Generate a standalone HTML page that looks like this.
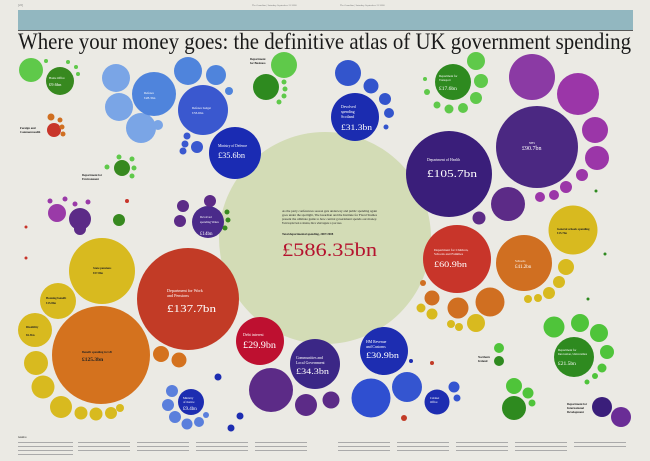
<!DOCTYPE html>
<html><head><meta charset="utf-8"><style>
html,body{margin:0;padding:0;background:#ebeae4;}
svg{display:block}
text{font-family:"Liberation Serif",serif;}
.w{fill:#fff}.k{fill:#222}
</style></head><body>
<svg width="650" height="461" viewBox="0 0 650 461" xmlns="http://www.w3.org/2000/svg">
<rect width="650" height="461" fill="#ebeae4"/>
<text x="18" y="6" font-size="3" fill="#777">[22]</text>
<text x="252" y="6" font-size="2.5" fill="#777">The Guardian | Saturday September 13 2008</text>
<text x="340" y="6" font-size="2.5" fill="#777">The Guardian | Saturday September 13 2008</text>
<rect x="18" y="10" width="615" height="20" fill="#92b7c0"/>
<rect x="18" y="30" width="615" height="0.8" fill="#333"/>
<text x="18" y="49" font-size="23.5" fill="#1a1a1a" textLength="613" lengthAdjust="spacingAndGlyphs">Where your money goes: the definitive atlas of UK government spending</text>

<!-- total -->
<circle cx="325" cy="238" r="106" fill="#d3dcb6"/>
<text x="282" y="212" font-size="2.6" class="k" textLength="95" lengthAdjust="spacingAndGlyphs">As the party conferences season gets underway and public spending again</text>
<text x="282" y="216" font-size="2.6" class="k" textLength="95" lengthAdjust="spacingAndGlyphs">goes under the spotlight, The Guardian and the Institute for Fiscal Studies</text>
<text x="282" y="220" font-size="2.6" class="k" textLength="95" lengthAdjust="spacingAndGlyphs">present the ultimate guide to how central government spends our money.</text>
<text x="282" y="224" font-size="2.6" class="k" textLength="60" lengthAdjust="spacingAndGlyphs">From hospital beds to missiles, this is what happens to your taxes.</text>
<text x="282" y="235" font-size="3" class="k" font-weight="bold">Total departmental spending, 2007/2008</text>
<text x="282" y="256" font-size="19" fill="#b5122e" textLength="95" lengthAdjust="spacingAndGlyphs">£586.35bn</text>

<!-- left yellow/orange/red -->
<circle cx="102" cy="271" r="33" fill="#d8ba1f"/>
<circle cx="58" cy="301" r="18" fill="#d8ba1f"/>
<circle cx="35" cy="330" r="17" fill="#d8ba1f"/>
<circle cx="36" cy="363" r="12" fill="#d8ba1f"/>
<circle cx="43" cy="387" r="11.5" fill="#d8ba1f"/>
<circle cx="61" cy="407" r="11" fill="#d8ba1f"/>
<circle cx="81" cy="413" r="6.5" fill="#d8ba1f"/>
<circle cx="96" cy="414" r="6.5" fill="#d8ba1f"/>
<circle cx="111" cy="413" r="6" fill="#d8ba1f"/>
<circle cx="120" cy="408" r="4" fill="#d8ba1f"/>
<circle cx="101" cy="355" r="49" fill="#d4721e"/>
<circle cx="188" cy="299" r="51" fill="#c23b26"/>
<circle cx="161" cy="354" r="8" fill="#d4721e"/>
<circle cx="179" cy="360" r="7.5" fill="#d4721e"/>
<circle cx="26" cy="258" r="1.5" fill="#c8352a"/>
<text x="93" y="269" font-size="3" class="k" font-weight="bold">State pensions</text>
<text x="93" y="274" font-size="3" class="k" font-weight="bold">£57.8bn</text>
<text x="46" y="299" font-size="3" class="k" font-weight="bold">Housing benefit</text>
<text x="46" y="304" font-size="3" class="k" font-weight="bold">£15.8bn</text>
<text x="26" y="328" font-size="3" class="k" font-weight="bold">Disability</text>
<text x="26" y="336" font-size="3" class="k" font-weight="bold">£6.3bn</text>
<text x="82" y="353" font-size="3" class="k" font-weight="bold">Benefit spending in GB</text>
<text x="82" y="361" font-size="5.5" class="k" font-weight="bold">£125.3bn</text>
<text x="167" y="292" font-size="4.2" class="w">Department for Work</text>
<text x="167" y="297" font-size="4.2" class="w">and Pensions</text>
<text x="167" y="312" font-size="11" class="w" textLength="49" lengthAdjust="spacingAndGlyphs">£137.7bn</text>
<circle cx="260" cy="341" r="24" fill="#be1030"/>
<text x="243" y="336" font-size="4" class="w">Debt interest</text>
<text x="243" y="348" font-size="9" class="w" textLength="33" lengthAdjust="spacingAndGlyphs">£29.9bn</text>
<circle cx="271" cy="390" r="22" fill="#5c2b87"/>
<circle cx="315" cy="364" r="25" fill="#3b2786"/>
<circle cx="306" cy="405" r="11" fill="#5c2b87"/>
<circle cx="331" cy="400" r="8.5" fill="#5c2b87"/>
<text x="296" y="359" font-size="3.8" class="w">Communities and</text>
<text x="296" y="364" font-size="3.8" class="w">Local Government</text>
<text x="296" y="374" font-size="8.5" class="w" textLength="33" lengthAdjust="spacingAndGlyphs">£34.3bn</text>
<circle cx="371" cy="398" r="19.5" fill="#2f4fd0"/>
<circle cx="407" cy="387" r="15" fill="#3455d0"/>
<circle cx="384" cy="351" r="24" fill="#1d2db1"/>
<text x="366" y="343" font-size="3.8" class="w">HM Revenue</text>
<text x="366" y="348" font-size="3.8" class="w">and Customs</text>
<text x="366" y="358" font-size="8.5" class="w" textLength="33" lengthAdjust="spacingAndGlyphs">£30.9bn</text>
<circle cx="437" cy="402" r="12.5" fill="#1d2db1"/>
<text x="430" y="399" font-size="3" class="w">Cabinet</text>
<text x="430" y="403" font-size="3" class="w">Office</text>
<circle cx="454" cy="387" r="5.5" fill="#3455d0"/>
<circle cx="457" cy="398" r="3.5" fill="#3455d0"/>
<circle cx="404" cy="418" r="3" fill="#c23b26"/>
<circle cx="411" cy="361" r="2" fill="#1d2db1"/>
<circle cx="432" cy="363" r="2" fill="#c23b26"/>

<!-- children/schools -->
<circle cx="524" cy="263" r="28" fill="#d06f21"/>
<circle cx="457" cy="259" r="34" fill="#c8352a"/>
<text x="434" y="251" font-size="3.4" class="w">Department for Children,</text>
<text x="434" y="255" font-size="3.4" class="w">Schools and Families</text>
<text x="434" y="267" font-size="8.5" class="w" textLength="33" lengthAdjust="spacingAndGlyphs">£60.9bn</text>
<text x="515" y="262" font-size="3.3" class="w">Schools</text>
<text x="515" y="268" font-size="5" class="w">£41.2bn</text>
<circle cx="490" cy="302" r="14.5" fill="#d06f21"/>
<circle cx="458" cy="308" r="10.5" fill="#d06f21"/>
<circle cx="432" cy="298" r="7.5" fill="#d06f21"/>
<circle cx="476" cy="323" r="9" fill="#d8ba1f"/>
<circle cx="432" cy="314" r="5.5" fill="#d8ba1f"/>
<circle cx="421" cy="308" r="4.5" fill="#d8ba1f"/>
<circle cx="451" cy="324" r="4" fill="#d8ba1f"/>
<circle cx="459" cy="327" r="4" fill="#d8ba1f"/>
<circle cx="423" cy="283" r="3" fill="#d06f21"/>
<circle cx="566" cy="267" r="8" fill="#d8ba1f"/>
<circle cx="559" cy="282" r="6" fill="#d8ba1f"/>
<circle cx="549" cy="293" r="6" fill="#d8ba1f"/>
<circle cx="538" cy="298" r="4" fill="#d8ba1f"/>
<circle cx="528" cy="299" r="4" fill="#d8ba1f"/>
<circle cx="573" cy="230" r="24.5" fill="#d8ba1f"/>
<text x="557" y="230" font-size="3" class="k" font-weight="bold">General schools spending</text>
<text x="557" y="234" font-size="3" class="k" font-weight="bold">£15.7bn</text>

<!-- right greens -->
<circle cx="574" cy="357" r="20" fill="#2e8a1f"/>
<text x="558" y="351" font-size="3" class="w">Department for</text>
<text x="558" y="355" font-size="3" class="w">Innovation, Universities</text>
<text x="558" y="365" font-size="5.5" class="w">£21.5bn</text>
<circle cx="554" cy="327" r="10.5" fill="#4fc43a"/>
<circle cx="580" cy="323" r="9" fill="#4fc43a"/>
<circle cx="599" cy="333" r="9" fill="#4fc43a"/>
<circle cx="607" cy="352" r="7" fill="#4fc43a"/>
<circle cx="602" cy="368" r="4.5" fill="#4fc43a"/>
<circle cx="595" cy="376" r="3" fill="#4fc43a"/>
<circle cx="587" cy="382" r="2.5" fill="#4fc43a"/>
<circle cx="499" cy="361" r="5" fill="#2e8a1f"/>
<circle cx="499" cy="348" r="5" fill="#4fc43a"/>
<text x="478" y="358" font-size="3" class="k" font-weight="bold">Northern</text>
<text x="478" y="362" font-size="3" class="k" font-weight="bold">Ireland</text>
<circle cx="514" cy="408" r="12" fill="#2e8a1f"/>
<circle cx="514" cy="386" r="8" fill="#4fc43a"/>
<circle cx="528" cy="393" r="5.5" fill="#4fc43a"/>
<circle cx="532" cy="403" r="3.5" fill="#4fc43a"/>
<circle cx="602" cy="407" r="10" fill="#3a1e7a"/>
<circle cx="621" cy="417" r="10" fill="#6a2d96"/>
<text x="567" y="405" font-size="3" class="k" font-weight="bold">Department for</text>
<text x="567" y="409" font-size="3" class="k" font-weight="bold">International</text>
<text x="567" y="413" font-size="3" class="k" font-weight="bold">Development</text>

<!-- Justice -->
<circle cx="191" cy="402" r="13" fill="#1d2db1"/>
<text x="183" y="399" font-size="3" class="w">Ministry</text>
<text x="183" y="403" font-size="3" class="w">of Justice</text>
<text x="183" y="410" font-size="5" class="w">£9.4bn</text>
<circle cx="172" cy="391" r="6" fill="#5a7fdc"/>
<circle cx="168" cy="405" r="6" fill="#5a7fdc"/>
<circle cx="175" cy="417" r="6" fill="#5a7fdc"/>
<circle cx="187" cy="424" r="5.5" fill="#5a7fdc"/>
<circle cx="199" cy="422" r="5" fill="#5a7fdc"/>
<circle cx="206" cy="415" r="3" fill="#5a7fdc"/>
<circle cx="218" cy="377" r="3.5" fill="#1d2db1"/>
<circle cx="240" cy="416" r="3.5" fill="#1d2db1"/>
<circle cx="231" cy="428" r="3.5" fill="#1d2db1"/>

<!-- top-left -->
<circle cx="31" cy="70" r="12" fill="#5fc94a"/>
<circle cx="60" cy="81" r="14" fill="#37891f"/>
<text x="49" y="79" font-size="3" class="w">Home Office</text>
<text x="49" y="86" font-size="4.5" class="w">£9.6bn</text>
<circle cx="46" cy="61" r="2" fill="#5fc94a"/>
<circle cx="68" cy="62" r="2" fill="#5fc94a"/>
<circle cx="76" cy="67" r="2" fill="#5fc94a"/>
<circle cx="78" cy="74" r="2" fill="#5fc94a"/>
<circle cx="54" cy="130" r="7" fill="#c8352a"/>
<circle cx="51" cy="117" r="3.5" fill="#d06f21"/>
<circle cx="60" cy="120" r="2.5" fill="#d06f21"/>
<circle cx="62" cy="127" r="2.5" fill="#d06f21"/>
<circle cx="63" cy="134" r="2.5" fill="#d06f21"/>
<text x="20" y="129" font-size="3" class="k" font-weight="bold">Foreign and</text>
<text x="20" y="133" font-size="3" class="k" font-weight="bold">Commonwealth</text>

<circle cx="116" cy="78" r="14" fill="#7aa5e6"/>
<circle cx="119" cy="107" r="14" fill="#7aa5e6"/>
<circle cx="141" cy="128" r="15" fill="#7aa5e6"/>
<circle cx="154" cy="94" r="22" fill="#4f84dc"/>
<circle cx="158" cy="125" r="5" fill="#7aa5e6"/>
<circle cx="188" cy="71" r="14" fill="#4f84dc"/>
<circle cx="216" cy="75" r="10" fill="#4f84dc"/>
<circle cx="229" cy="91" r="4" fill="#4f84dc"/>
<circle cx="203" cy="110" r="25" fill="#3a58cf"/>
<text x="192" y="109" font-size="3" class="w">Defence budget</text>
<text x="192" y="114" font-size="3.5" class="w">£33.6bn</text>
<text x="144" y="94" font-size="3" class="w">Defence</text>
<text x="144" y="99" font-size="3.5" class="w">£28.3bn</text>
<circle cx="235" cy="153" r="26" fill="#1a2bb3"/>
<text x="218" y="147" font-size="3.6" class="w">Ministry of Defence</text>
<text x="218" y="158" font-size="8" class="w" textLength="27" lengthAdjust="spacingAndGlyphs">£35.6bn</text>
<circle cx="187" cy="136" r="3.5" fill="#3a58cf"/>
<circle cx="185" cy="144" r="3.5" fill="#3a58cf"/>
<circle cx="197" cy="147" r="6" fill="#3a58cf"/>
<circle cx="183" cy="151" r="3.5" fill="#3a58cf"/>

<circle cx="122" cy="168" r="8" fill="#37891f"/>
<circle cx="107" cy="167" r="2.5" fill="#5fc94a"/>
<circle cx="119" cy="157" r="2.5" fill="#5fc94a"/>
<circle cx="132" cy="159" r="2.5" fill="#5fc94a"/>
<circle cx="134" cy="168" r="2.5" fill="#5fc94a"/>
<circle cx="132" cy="176" r="2.5" fill="#5fc94a"/>
<text x="82" y="176" font-size="3" class="k" font-weight="bold">Department for</text>
<text x="82" y="180" font-size="3" class="k" font-weight="bold">Environment</text>

<circle cx="57" cy="213" r="9" fill="#9a3aa8"/>
<circle cx="80" cy="219" r="11" fill="#5c2b87"/>
<circle cx="80" cy="229" r="6" fill="#5c2b87"/>
<circle cx="50" cy="201" r="2.5" fill="#9a3aa8"/>
<circle cx="65" cy="199" r="2.5" fill="#9a3aa8"/>
<circle cx="75" cy="204" r="2.5" fill="#9a3aa8"/>
<circle cx="88" cy="202" r="2.5" fill="#9a3aa8"/>
<circle cx="127" cy="201" r="2" fill="#c8352a"/>
<circle cx="119" cy="220" r="6" fill="#37891f"/>
<circle cx="26" cy="227" r="1.5" fill="#c8352a"/>

<!-- Wales purple -->
<circle cx="208" cy="222" r="16" fill="#4a2a8a"/>
<text x="200" y="218" font-size="3" class="w">Devolved</text>
<text x="200" y="223" font-size="3" class="w">spending Wales</text>
<text x="200" y="235" font-size="5" class="w">£14bn</text>
<circle cx="183" cy="206" r="6" fill="#5c2b87"/>
<circle cx="210" cy="201" r="6" fill="#5c2b87"/>
<circle cx="180" cy="221" r="6" fill="#5c2b87"/>
<circle cx="227" cy="212" r="2.5" fill="#37891f"/>
<circle cx="228" cy="220" r="2.5" fill="#37891f"/>
<circle cx="225" cy="228" r="2.5" fill="#37891f"/>

<!-- BERR -->
<circle cx="284" cy="65" r="13" fill="#5fc94a"/>
<circle cx="266" cy="87" r="13" fill="#2e8a1f"/>
<circle cx="284" cy="82" r="2.5" fill="#5fc94a"/>
<circle cx="285" cy="89" r="2.5" fill="#5fc94a"/>
<circle cx="284" cy="96" r="2.5" fill="#5fc94a"/>
<circle cx="279" cy="102" r="2.5" fill="#5fc94a"/>
<text x="250" y="60" font-size="3" class="k" font-weight="bold">Department</text>
<text x="250" y="64" font-size="3" class="k" font-weight="bold">for Business</text>

<!-- Scotland -->
<circle cx="348" cy="73" r="13" fill="#3355cc"/>
<circle cx="371" cy="86" r="7.5" fill="#3355cc"/>
<circle cx="385" cy="99" r="6" fill="#3355cc"/>
<circle cx="389" cy="113" r="5" fill="#3355cc"/>
<circle cx="386" cy="127" r="2.5" fill="#3355cc"/>
<circle cx="355" cy="117" r="24" fill="#1b2cb0"/>
<text x="341" y="108" font-size="3.8" class="w">Devolved</text>
<text x="341" y="113" font-size="3.8" class="w">spending</text>
<text x="341" y="118" font-size="3.8" class="w">Scotland</text>
<text x="341" y="130" font-size="8" class="w" textLength="31" lengthAdjust="spacingAndGlyphs">£31.3bn</text>

<!-- Transport -->
<circle cx="453" cy="82" r="18" fill="#2e8a1f"/>
<text x="439" y="77" font-size="3" class="w">Department for</text>
<text x="439" y="81" font-size="3" class="w">Transport</text>
<text x="439" y="90" font-size="5.5" class="w">£17.6bn</text>
<circle cx="476" cy="61" r="9" fill="#5fc94a"/>
<circle cx="481" cy="81" r="7" fill="#5fc94a"/>
<circle cx="476" cy="98" r="6" fill="#5fc94a"/>
<circle cx="463" cy="108" r="5" fill="#5fc94a"/>
<circle cx="449" cy="109" r="4.5" fill="#5fc94a"/>
<circle cx="437" cy="105" r="3.5" fill="#5fc94a"/>
<circle cx="427" cy="92" r="3" fill="#5fc94a"/>
<circle cx="425" cy="79" r="2" fill="#5fc94a"/>

<!-- Health -->
<circle cx="532" cy="77" r="23" fill="#8b3aa4"/>
<circle cx="578" cy="94" r="21" fill="#9b36a8"/>
<circle cx="595" cy="130" r="13" fill="#9b36a8"/>
<circle cx="597" cy="158" r="12" fill="#9b36a8"/>
<circle cx="582" cy="175" r="6" fill="#9b36a8"/>
<circle cx="566" cy="187" r="6" fill="#9b36a8"/>
<circle cx="554" cy="195" r="5" fill="#9b36a8"/>
<circle cx="540" cy="197" r="5" fill="#9b36a8"/>
<circle cx="537" cy="147" r="41" fill="#4b2882"/>
<text x="529" y="144" font-size="3" class="w">NHS</text>
<text x="522" y="150" font-size="6" class="w">£90.7bn</text>
<circle cx="508" cy="204" r="17" fill="#5c2b87"/>
<circle cx="479" cy="218" r="6.5" fill="#5c2b87"/>
<circle cx="449" cy="174" r="43" fill="#3a1e7a"/>
<text x="427" y="161" font-size="3.8" class="w">Department of Health</text>
<text x="427" y="177" font-size="11" class="w" textLength="50" lengthAdjust="spacingAndGlyphs">£105.7bn</text>
<circle cx="596" cy="191" r="1.5" fill="#2e8a1f"/>
<circle cx="605" cy="254" r="1.5" fill="#2e8a1f"/>
<circle cx="588" cy="299" r="1.5" fill="#2e8a1f"/>

<!-- notes -->
<text x="18" y="438" font-size="2.5" class="k" font-weight="bold">NOTES</text>
<g fill="#aaa">
<rect x="18" y="442" width="55" height="1"/><rect x="18" y="446" width="55" height="1"/><rect x="18" y="450" width="55" height="1"/><rect x="18" y="454" width="55" height="1"/>
<rect x="78" y="442" width="52" height="1"/><rect x="78" y="446" width="52" height="1"/><rect x="78" y="450" width="52" height="1"/>
<rect x="137" y="442" width="52" height="1"/><rect x="137" y="446" width="52" height="1"/><rect x="137" y="450" width="52" height="1"/>
<rect x="196" y="442" width="52" height="1"/><rect x="196" y="446" width="52" height="1"/><rect x="196" y="450" width="52" height="1"/>
<rect x="255" y="442" width="52" height="1"/><rect x="255" y="446" width="52" height="1"/><rect x="255" y="450" width="52" height="1"/>
<rect x="338" y="442" width="52" height="1"/><rect x="338" y="446" width="52" height="1"/><rect x="338" y="450" width="52" height="1"/>
<rect x="397" y="442" width="52" height="1"/><rect x="397" y="446" width="52" height="1"/><rect x="397" y="450" width="52" height="1"/>
<rect x="456" y="442" width="52" height="1"/><rect x="456" y="446" width="52" height="1"/><rect x="456" y="450" width="52" height="1"/>
<rect x="515" y="442" width="52" height="1"/><rect x="515" y="446" width="52" height="1"/><rect x="515" y="450" width="52" height="1"/>
<rect x="574" y="442" width="52" height="1"/><rect x="574" y="446" width="52" height="1"/>
</g>
</svg>
</body></html>
